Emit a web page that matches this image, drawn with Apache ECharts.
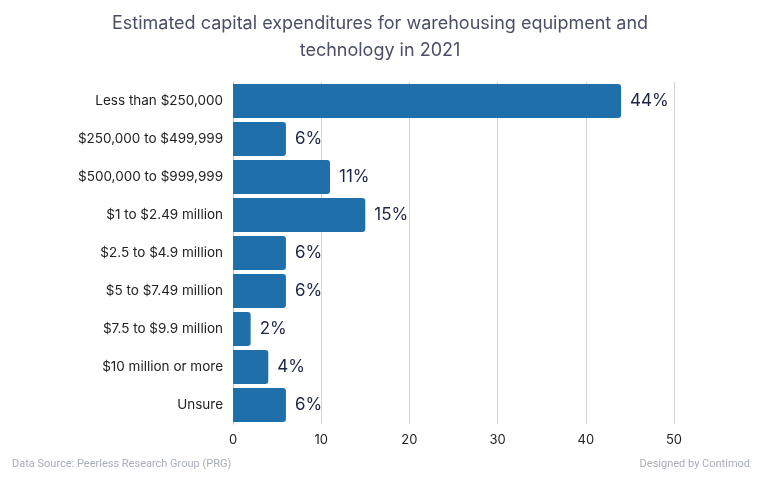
<!DOCTYPE html>
<html><head><meta charset="utf-8">
<script src="https://cdn.jsdelivr.net/npm/echarts@6/dist/echarts.min.js"></script>
<style>html,body{margin:0;padding:0;background:#fff}#c{width:760px;height:480px}</style>
</head><body><div id="c"></div>
<script>
const categories = ["Less than $250,000","$250,000 to $499,999","$500,000 to $999,999","$1 to $2.49 million","$2.5 to $4.9 million","$5 to $7.49 million","$7.5 to $9.9 million","$10 million or more","Unsure"];
const values = [44, 6, 11, 15, 6, 6, 2, 4, 6];
const xTicks = [0, 10, 20, 30, 40, 50];
const titleText = "Estimated capital expenditures for warehousing equipment and\ntechnology in 2021";
const sourceText = "Data Source: Peerless Research Group (PRG)";
const creditText = "Designed by Contimod";

const chart = echarts.init(document.getElementById('c'), null, {renderer:'canvas'});
chart.setOption({
  animation:false,
  backgroundColor:'#fff',
  title:{text:titleText,left:'center',top:5,textStyle:{fontFamily:'Inter',fontWeight:400,fontSize:18,color:'#4a4e66',lineHeight:27}},
  graphic:[
    {type:'text',left:12,top:459,style:{text:sourceText,fontFamily:'Roboto',fontSize:11,fill:'#a9adb8'}},
    {type:'text',right:10,top:459,style:{text:creditText,fontFamily:'Roboto',fontSize:11,fill:'#a9adb8'}}
  ],
  grid:{left:233,right:86,top:82,bottom:56,containLabel:false},
  xAxis:{type:'value',min:xTicks[0],max:xTicks[xTicks.length-1],interval:10,
    axisLine:{show:false},axisTick:{show:false},
    axisLabel:{fontFamily:'Inter',fontSize:13,color:'#222',margin:10},
    splitLine:{lineStyle:{color:'#d4d4d4',width:1}}},
  yAxis:{type:'category',data:categories,inverse:true,
    axisLine:{show:true,lineStyle:{color:'#bdbdbd'}},axisTick:{show:false},
    axisLabel:{fontFamily:'Inter',fontSize:13.5,color:'#222',margin:10}},
  series:[{type:'bar',data:values,barCategoryGap:'10%',
    itemStyle:{color:'#1f6fab',borderRadius:[0,3,3,0]},
    label:{show:true,position:'right',distance:9,formatter:'{c}%',fontFamily:'Inter',fontSize:17,color:'#1e2444'}}]
});
</script></body></html>
